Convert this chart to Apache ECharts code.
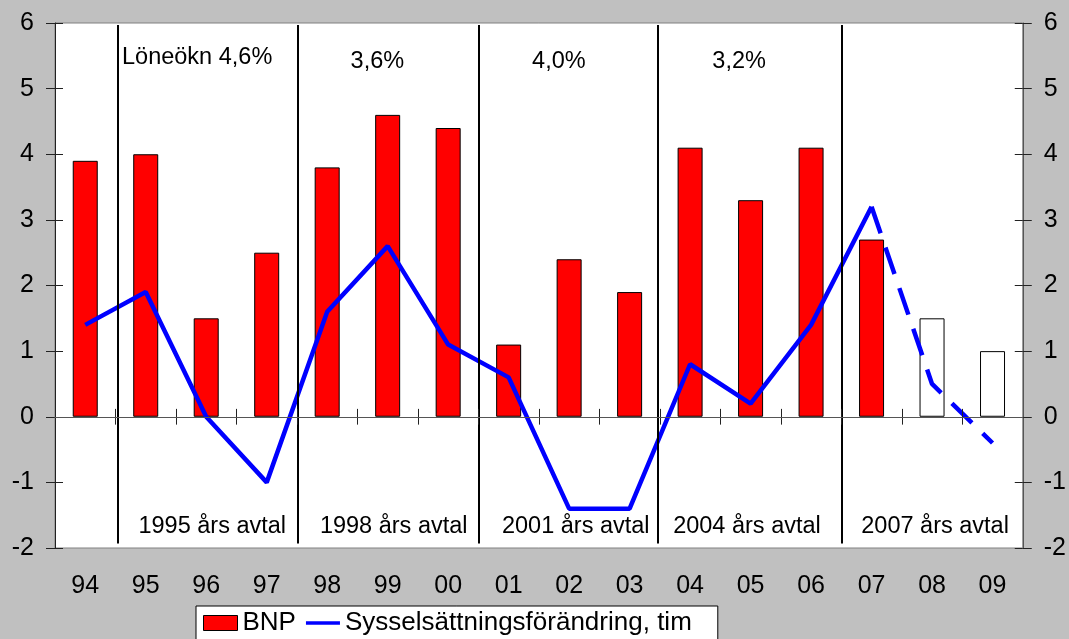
<!DOCTYPE html>
<html>
<head>
<meta charset="utf-8">
<script src="https://cdn.jsdelivr.net/npm/echarts@6/dist/echarts.min.js"></script>
<style>
html,body{margin:0;padding:0;background:#c0c0c0;}
#chart{width:1069px;height:639px;}
</style>
</head>
<body>
<div id="chart"></div>
<script>
// ---- data ----
const categories = ['94','95','96','97','98','99','00','01','02','03','04','05','06','07','08','09'];
const bnp = [3.9, 4.0, 1.5, 2.5, 3.8, 4.6, 4.4, 1.1, 2.4, 1.9, 4.1, 3.3, 4.1, 2.7, 1.5, 1.0];
const forecastFrom = 14; // index of first forecast year (08)
const employment = [1.4, 1.9, 0.0, -1.0, 1.6, 2.6, 1.1, 0.6, -1.4, -1.4, 0.8, 0.2, 1.4, 3.2, 0.5, -0.4];
const dashFrom = 13; // dashed from 07
const yTicks = [-2, -1, 0, 1, 2, 3, 4, 5, 6];
// separators (in category units from left edge)
const separatorX = [1.04, 4.02, 7.0, 9.96, 13.0];
const separatorTop = 5.97, separatorBottom = -1.93;
// annotations
const topNotes = ['Löneökn 4,6%', '3,6%', '4,0%', '3,2%'];
const topNotesX = [2.35, 5.33, 8.33, 11.31];
const topNotesY = [5.48, 5.42, 5.42, 5.42];
const bottomNotes = ['1995 års avtal', '1998 års avtal', '2001 års avtal', '2004 års avtal', '2007 års avtal'];
const bottomNotesX = [2.60, 5.60, 8.61, 11.44, 14.55];
const bottomNotesY = -1.68;
const zeroTickHalf = 0.12; // half-length of the category ticks crossing the zero line

const FONT = '"Liberation Sans", Arial, sans-serif';

const bnpData = bnp.map((v, i) => i >= forecastFrom
  ? { value: v, itemStyle: { color: '#ffffff' } }
  : v);
const solidLine = employment.map((v, i) => i <= dashFrom ? v : null);
const dashLine = employment.map((v, i) => i >= dashFrom ? v : null);

const notes = [];
topNotes.forEach((t, i) => notes.push({ name: t, value: [topNotesX[i], topNotesY[i]] }));
bottomNotes.forEach((t, i) => notes.push({ name: t, value: [bottomNotesX[i], bottomNotesY] }));

const sepLines = separatorX.map(x => [{ coord: [x, separatorTop] }, { coord: [x, separatorBottom] }]);
const zeroTicks = categories.slice(1).map((c, i) =>
  [{ coord: [i + 1, zeroTickHalf] }, { coord: [i + 1, -zeroTickHalf] }]);

const yBase = { type: 'value', min: yTicks[0], max: yTicks[yTicks.length - 1], interval: 1, splitLine: { show: false } };

const chart = echarts.init(document.getElementById('chart'));
chart.setOption({
  backgroundColor: '#c0c0c0',
  animation: false,
  textStyle: { fontFamily: FONT },
  grid: { left: 55, right: 46, top: 23, bottom: 91, show: true, backgroundColor: '#ffffff', borderColor: '#808080', borderWidth: 1 },
  legend: {
    left: 196, top: 606,
    backgroundColor: '#ffffff', borderColor: '#000000', borderWidth: 1,
    padding: [4, 26, 20, 7],
    itemWidth: 34, itemHeight: 15, itemGap: 10,
    textStyle: { fontSize: 26, color: '#000', fontFamily: FONT },
    data: [
      { name: 'BNP', icon: 'rect', itemStyle: { color: '#ff0000', borderColor: '#000', borderWidth: 1 } },
      { name: 'Sysselsättningsförändring, tim', icon: 'path://M0,0H37V4H0Z',
        itemStyle: { color: '#0000ff', borderWidth: 0 } }
    ]
  },
  xAxis: [
    { type: 'category', data: categories, position: 'bottom',
      axisLine: { onZero: true, onZeroAxisIndex: 0, lineStyle: { color: '#555', width: 1 } },
      axisTick: { show: false },
      axisLabel: { show: false }, z: 5 },
    { type: 'category', data: categories, position: 'bottom',
      axisLine: { show: false, onZero: false },
      axisTick: { show: false },
      axisLabel: { fontSize: 25, color: '#000', margin: 26, fontFamily: FONT } },
    { type: 'value', min: 0, max: categories.length, show: false }
  ],
  yAxis: [
    Object.assign({}, yBase, { position: 'left',
      axisLine: { show: true, lineStyle: { color: '#222', width: 1 } },
      axisTick: { show: true, length: 9, lineStyle: { color: '#222' } },
      axisLabel: { fontSize: 25, color: '#000', margin: 21, fontFamily: FONT } }),
    Object.assign({}, yBase, { position: 'left',
      axisLine: { show: false },
      axisTick: { show: true, inside: true, length: 8, lineStyle: { color: '#222' } },
      axisLabel: { show: false } }),
    Object.assign({}, yBase, { position: 'right',
      axisLine: { show: true, lineStyle: { color: '#555', width: 1 } },
      axisTick: { show: true, length: 9, lineStyle: { color: '#222' } },
      axisLabel: { fontSize: 25, color: '#000', margin: 21, fontFamily: FONT } }),
    Object.assign({}, yBase, { position: 'right',
      axisLine: { show: false },
      axisTick: { show: true, inside: true, length: 8, lineStyle: { color: '#222' } },
      axisLabel: { show: false } })
  ],
  series: [
    { type: 'scatter', name: 'notes', xAxisIndex: 2, yAxisIndex: 0, data: notes,
      symbolSize: 0, silent: true, z: 1,
      itemStyle: { opacity: 1, color: 'rgba(0,0,0,0)' },
      label: { show: true, position: 'inside', formatter: p => p.name, fontSize: 23.5, color: '#000',
        textBorderWidth: 0, fontFamily: FONT },
      markLine: { silent: true, symbol: 'none', animation: false,
        lineStyle: { color: '#000', width: 2, type: 'solid', opacity: 1 },
        label: { show: false }, emphasis: { disabled: true },
        data: sepLines } },
    { type: 'scatter', name: 'zeroticks', xAxisIndex: 2, yAxisIndex: 0, data: [],
      silent: true, z: 4,
      markLine: { silent: true, symbol: 'none', animation: false,
        lineStyle: { color: '#222', width: 1, type: 'solid', opacity: 1 },
        label: { show: false }, emphasis: { disabled: true },
        data: zeroTicks } },
    { type: 'bar', name: 'BNP', xAxisIndex: 0, yAxisIndex: 0, data: bnpData,
      barWidth: 25, z: 2,
      itemStyle: { color: '#ff0000', borderColor: '#000', borderWidth: 1 } },
    { type: 'line', name: 'Sysselsättningsförändring, tim', xAxisIndex: 0, yAxisIndex: 0, data: solidLine,
      symbol: 'none', z: 3, connectNulls: false,
      lineStyle: { color: '#0000ff', width: 4.5 }, itemStyle: { color: '#0000ff' } },
    { type: 'line', name: 'prognos', xAxisIndex: 0, yAxisIndex: 0, data: dashLine,
      symbol: 'none', z: 3,
      lineStyle: { color: '#0000ff', width: 4.5, type: [28, 15] }, itemStyle: { color: '#0000ff' } }
  ]
});
</script>
</body>
</html>
